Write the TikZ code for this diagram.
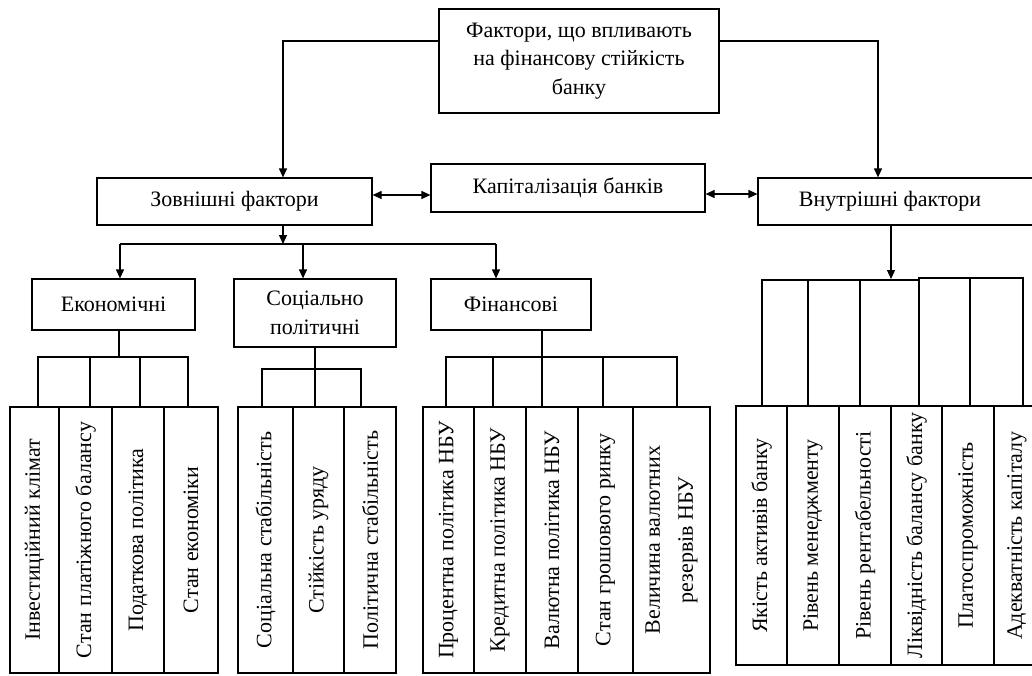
\documentclass[tikz,border=0pt]{standalone}
\usepackage{fontspec}
\setmainfont{Liberation Serif}
\usetikzlibrary{arrows.meta}
\newcommand\lbl{\fontsize{22}{28.5}\selectfont}
\newcommand\vlbl{\fontsize{22}{33}\selectfont}
\tikzset{
  box/.style={draw, line width=1.2pt, inner sep=0pt, align=center, font=\lbl},
  vbox/.style={box, rotate=90, font=\vlbl, minimum width=266pt},
  rbox/.style={box, rotate=90, font=\vlbl, minimum width=259pt},
  link/.style={line width=1.2pt},
  arr/.style={link, -{Triangle[length=9pt,width=8pt]}},
  darr/.style={link, {Triangle[length=9pt,width=8pt]}-{Triangle[length=9pt,width=8pt]}},
}
\begin{document}
\begin{tikzpicture}[x=1pt,y=-1pt]
\useasboundingbox (0,0) rectangle (1032,675);
\fill[white] (0,0) rectangle (1032,675);
% top level
\node[box, minimum width=280pt, minimum height=104pt] (top) at (579,61) {Фактори, що впливають\\на фінансову стійкість\\банку};
\node[box, minimum width=275pt, minimum height=47pt] (ext) at (234.5,201.5) {Зовнішні фактори};
\node[box, minimum width=274pt, minimum height=48pt] (cap) at (568,188) {Капіталізація банків};
\node[box, minimum width=300pt, minimum height=47pt] (int) at (908,201.5) {Внутрішні фактори\hspace*{36pt}};
% second level
\node[box, minimum width=163pt, minimum height=51pt] (econ) at (113.5,304.5) {Економічні};
\node[box, minimum width=162pt, minimum height=68pt] (soc) at (315,313) {Соціально\\політичні};
\node[box, minimum width=160pt, minimum height=51pt] (fin) at (511,304.5) {Фінансові};
% economic
\node[vbox, minimum height=49pt] (e1) at (34.5,540) {Інвестиційний клімат};
\node[vbox, minimum height=53pt] (e2) at (85.5,540) {Стан платіжного балансу};
\node[vbox, minimum height=52pt] (e3) at (138,540) {Податкова політика};
\node[vbox, minimum height=54pt] (e4) at (191,540) {Стан економіки};
% social
\node[vbox, minimum height=55pt] (s1) at (265.5,540) {Соціальна стабільність};
\node[vbox, minimum height=51pt] (s2) at (318.5,540) {Стійкість уряду};
\node[vbox, minimum height=52pt] (s3) at (370,540) {Політична стабільність};
% financial
\node[vbox, minimum height=51pt] (f1) at (448.5,540) {Процентна політика НБУ};
\node[vbox, minimum height=52pt] (f2) at (500,540) {Кредитна політика НБУ};
\node[vbox, minimum height=52pt] (f3) at (552,540) {Валютна політика НБУ};
\node[vbox, minimum height=55pt] (f4) at (605.5,540) {Стан грошового ринку};
\node[vbox, minimum height=77pt] (f5) at (671.5,540) {Величина валютних\\резервів НБУ};
% internal
\node[rbox, minimum height=51pt] (i1) at (761.5,535.5) {Якість активів банку};
\node[rbox, minimum height=52pt] (i2) at (813,535.5) {Рівень менеджменту};
\node[rbox, minimum height=52pt] (i3) at (865,535.5) {Рівень рентабельності};
\node[rbox, minimum height=51pt] (i4) at (916.5,535.5) {Ліквідність балансу банку};
\node[rbox, minimum height=52pt] (i5) at (968,535.5) {Платоспроможність};
\node[rbox, minimum height=46pt] (i6) at (1017,535.5) {Адекватність капіталу};
% top connectors
\draw[arr] (top.west |- 0,41) -| (283,0 |- ext.north);
\draw[arr] (top.east |- 0,41) -| (878,0 |- int.north);
\draw[darr] (ext.east |- 0,195) -- (cap.west |- 0,195);
\draw[darr] (cap.east |- 0,194) -- (int.west |- 0,194);
% external branching
\coordinate (ej) at (283,244);
\draw[arr] (283,0 |- ext.south) -- (ej);
\draw[link] (120,244) -- (496,244);
\draw[arr] (120,244) -- (120,0 |- econ.north);
\draw[arr] (303,244) -- (303,0 |- soc.north);
\draw[arr] (496,244) -- (496,0 |- fin.north);
% economic tree
\draw[link] (119,0 |- econ.south) -- (119,357);
\draw[link] (38,0 |- e1.east) -- (38,357) -- (188,357) -- (188,0 |- e4.east);
\draw[link] (90,357) -- (90,0 |- e2.east);
\draw[link] (140,357) -- (140,0 |- e3.east);
% social tree
\draw[link] (315,0 |- soc.south) -- (315,0 |- s2.east);
\draw[link] (262,0 |- s1.east) -- (262,369) -- (361,369) -- (361,0 |- s3.east);
% financial tree
\draw[link] (542,0 |- fin.south) -- (542,0 |- f3.east);
\draw[link] (446,0 |- f1.east) -- (446,357) -- (677,357) -- (677,0 |- f5.east);
\draw[link] (493,357) -- (493,0 |- f2.east);
\draw[link] (603,357) -- (603,0 |- f4.east);
% internal tree
\coordinate (ij) at (891,279);
\draw[arr] (891,0 |- int.south) -- (ij);
\draw[link] (762,0 |- i1.east) -- (762,280) -- (919,280);
\draw[link] (919,0 |- i4.east) -- (919,278) -- (1023,278) -- (1023,0 |- i6.east);
\draw[link] (808,280) -- (808,0 |- i2.east);
\draw[link] (860,280) -- (860,0 |- i3.east);
\draw[link] (970,278) -- (970,0 |- i5.east);
\end{tikzpicture}
\end{document}
